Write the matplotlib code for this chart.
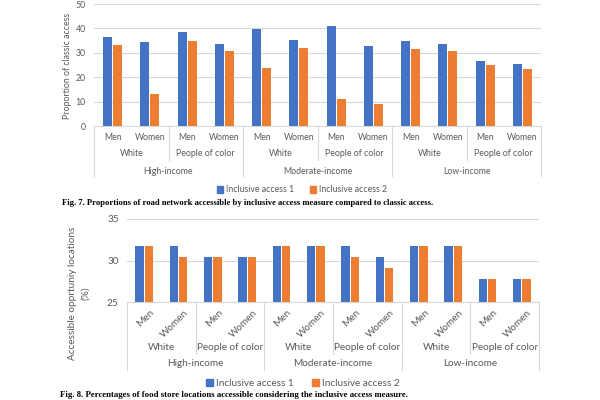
import matplotlib
matplotlib.use('Agg')
import matplotlib.pyplot as plt
from matplotlib.patches import Patch

# categories (same for both figures)
sexes = ['Men', 'Women'] * 6
races = ['White', 'People of color'] * 3
incomes = ['High-income', 'Moderate-income', 'Low-income']
series = ['Inclusive access 1', 'Inclusive access 2']

# Fig. 7 values
road_acc1 = [36.5, 34.6, 38.5, 33.6, 39.8, 35.2, 41.1, 32.9, 34.7, 33.5, 26.5, 25.4]
road_acc2 = [33.0, 13.1, 34.7, 30.7, 23.9, 31.8, 10.9, 9.1, 31.7, 30.6, 24.9, 23.5]

# Fig. 8 values
food_acc1 = [31.7, 31.7, 30.4, 30.4, 31.7, 31.7, 31.7, 30.4, 31.7, 31.7, 27.8, 27.8]
food_acc2 = [31.7, 30.4, 30.4, 30.4, 31.7, 31.7, 30.4, 29.1, 31.7, 31.7, 27.8, 27.8]

BLUE = '#4472C4'
ORANGE = '#ED7D31'
GREY = '#595959'
LINE = '#D9D9D9'
FONT = 'Lato'

W, H = 600, 400
fig = plt.figure(figsize=(6, 4), dpi=100)


def px_rect(l, t, r, b):
    return [l / W, 1 - b / H, (r - l) / W, (b - t) / H]


def chart(rect, v1, v2, ylim, yticks, fs, dims):
    ax = fig.add_axes(px_rect(*rect))
    hpx = rect[3] - rect[1]
    n = len(v1)
    xs = list(range(n))
    ax.bar([x - 0.135 for x in xs], v1, width=0.245, color=BLUE, zorder=3)
    ax.bar([x + 0.135 for x in xs], v2, width=0.245, color=ORANGE, zorder=3)
    ax.set_xlim(-0.5, n - 0.5)
    ax.set_ylim(*ylim)
    ax.set_yticks(yticks)
    ax.yaxis.grid(True, color=LINE, lw=0.8, zorder=0)
    ax.set_xticks([])
    for s in ['top', 'right', 'left']:
        ax.spines[s].set_visible(False)
    ax.spines['bottom'].set_color(LINE)
    ax.spines['bottom'].set_linewidth(0.8)
    ax.tick_params(axis='y', length=0, labelsize=fs, labelcolor=GREY, pad=6)
    for lab in ax.get_yticklabels():
        lab.set_family(FONT)
    tr = ax.get_xaxis_transform()

    def yb(d):
        return -d / hpx

    # category labels
    for i, s in enumerate(sexes):
        if dims['rot']:
            ax.text(i + 0.15, yb(dims['sex']), s, transform=tr, rotation=45,
                    ha='right', va='top', rotation_mode='anchor',
                    fontsize=fs, color=GREY, family=FONT)
        else:
            ax.text(i, yb(dims['sex']), s, transform=tr, ha='center', va='center',
                    fontsize=fs, color=GREY, family=FONT)
    for j, r in enumerate(races):
        ax.text(2 * j + 0.5, yb(dims['race']), r, transform=tr, ha='center',
                va='center', fontsize=fs, color=GREY, family=FONT)
    for k, inc in enumerate(incomes):
        ax.text(4 * k + 1.5, yb(dims['inc']), inc, transform=tr, ha='center',
                va='center', fontsize=fs, color=GREY, family=FONT)
    # separators
    for x in [1.5, 5.5, 9.5]:
        ax.plot([x, x], [0, yb(dims['short'])], transform=tr, clip_on=False,
                color=LINE, lw=0.8)
    for x in [-0.5, 3.5, 7.5, 11.5]:
        ax.plot([x, x], [0, yb(dims['long'])], transform=tr, clip_on=False,
                color=LINE, lw=0.8)
    return ax


ax1 = chart((94, 4, 541, 126), road_acc1, road_acc2, (0, 50), range(0, 51, 10),
            6.3, dict(rot=False, sex=11, race=28, inc=45, short=34, long=50))

ax2 = chart((127, 219, 539, 302), food_acc1, food_acc2, (25, 35), [25, 30, 35],
            7.2, dict(rot=True, sex=6, race=46, inc=62, short=52, long=68))

# y axis titles
fig.text(68 / W, 1 - 66 / H, 'Proportion of classic access', rotation=90,
         ha='center', va='center', fontsize=6.3, color=GREY, family=FONT)
fig.text(79 / W, 1 - 293 / H, 'Accessible opprtuniy locations\n(%)', rotation=90,
         ha='center', va='center', fontsize=7.2, color=GREY, family=FONT,
         multialignment='center', linespacing=1.5)


def legend(cx, cy, fs):
    handles = [Patch(color=BLUE), Patch(color=ORANGE)]
    fig.legend(handles, series, ncol=2,
               loc='center', bbox_to_anchor=(cx / W, 1 - cy / H), frameon=False,
               handlelength=0.7, handleheight=0.7, handletextpad=0.3,
               columnspacing=1.8, prop={'family': FONT, 'size': fs},
               labelcolor=GREY)


legend(302, 190, 6.3)
legend(303, 383, 7.2)

fig.text(62 / W, 1 - 203 / H,
         'Fig. 7. Proportions of road network accessible by inclusive access measure compared to classic access.',
         family='Liberation Serif', weight='bold', fontsize=6.2, va='center')
fig.text(60 / W, 1 - 395 / H,
         'Fig. 8. Percentages of food store locations accessible considering the inclusive access measure.',
         family='Liberation Serif', weight='bold', fontsize=6.3, va='center')

fig.savefig('out.png', dpi=100)
